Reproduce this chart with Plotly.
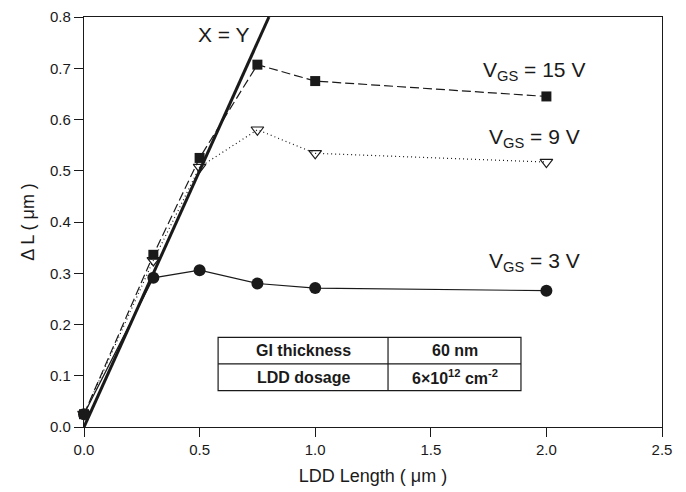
import plotly.graph_objects as go

ldd_length = [0.0, 0.3, 0.5, 0.75, 1.0, 2.0]
dl_vgs15 = [0.025, 0.336, 0.525, 0.707, 0.675, 0.645]
dl_vgs9 = [0.025, 0.325, 0.507, 0.580, 0.534, 0.517]
dl_vgs3 = [0.025, 0.291, 0.306, 0.280, 0.271, 0.266]
xy_line_x = [0.0, 0.8]
xy_line_y = [0.0, 0.8]

x_ticks = [0.0, 0.5, 1.0, 1.5, 2.0, 2.5]
y_ticks = [0.0, 0.1, 0.2, 0.3, 0.4, 0.5, 0.6, 0.7, 0.8]

table_rows = [["GI thickness", "60 nm"], ["LDD dosage", "6×10<sup>12</sup> cm<sup>-2</sup>"]]

FONT = "Liberation Sans, Arial, sans-serif"
INK = "#1a1a1a"

fig = go.Figure()

fig.add_trace(go.Scatter(x=xy_line_x, y=xy_line_y, mode="lines",
                         line=dict(color=INK, width=3), showlegend=False, cliponaxis=False))
fig.add_trace(go.Scatter(x=ldd_length, y=dl_vgs15, mode="lines+markers",
                         line=dict(color=INK, width=1.2, dash="9px,4px"),
                         marker=dict(symbol="square", size=10, color=INK),
                         showlegend=False, cliponaxis=False))
fig.add_trace(go.Scatter(x=ldd_length, y=dl_vgs9, mode="lines+markers",
                         line=dict(color=INK, width=1.2, dash="1px,3px"),
                         marker=dict(symbol="triangle-down-open", size=11, color=INK,
                                     line=dict(color=INK, width=1.2)),
                         showlegend=False, cliponaxis=False))
fig.add_trace(go.Scatter(x=ldd_length, y=dl_vgs3, mode="lines+markers",
                         line=dict(color=INK, width=1.2),
                         marker=dict(symbol="circle", size=12, color=INK),
                         showlegend=False, cliponaxis=False))

ann_font = dict(family=FONT, size=21, color=INK)
fig.add_annotation(x=0.606, y=0.765, xref="x", yref="y", text="X = Y",
                   showarrow=False, font=ann_font)
fig.add_annotation(x=1.946, y=0.694, xref="x", yref="y", text="V<sub>GS</sub> = 15 V",
                   showarrow=False, font=ann_font)
fig.add_annotation(x=1.95, y=0.563, xref="x", yref="y", text="V<sub>GS</sub> = 9 V",
                   showarrow=False, font=ann_font)
fig.add_annotation(x=1.95, y=0.322, xref="x", yref="y", text="V<sub>GS</sub> = 3 V",
                   showarrow=False, font=ann_font)

# parameter table
tx = [0.580, 1.315, 1.890]
ty = [0.175, 0.123, 0.071]
fig.add_shape(type="rect", xref="x", yref="y", x0=tx[0], x1=tx[2], y0=ty[2], y1=ty[0],
              line=dict(color=INK, width=1.2), fillcolor="white", layer="above")
fig.add_shape(type="line", xref="x", yref="y", x0=tx[1], x1=tx[1], y0=ty[2], y1=ty[0],
              line=dict(color=INK, width=1.2), layer="above")
fig.add_shape(type="line", xref="x", yref="y", x0=tx[0], x1=tx[2], y0=ty[1], y1=ty[1],
              line=dict(color=INK, width=1.2), layer="above")
tab_font = dict(family=FONT, size=16, color=INK)
for i, row in enumerate(table_rows):
    yc = (ty[i] + ty[i + 1]) / 2
    fig.add_annotation(x=(tx[0] + tx[1]) / 2, y=yc, xref="x", yref="y",
                       text="<b>" + row[0] + "</b>", showarrow=False, font=tab_font)
    fig.add_annotation(x=(tx[1] + tx[2]) / 2, y=yc, xref="x", yref="y",
                       text="<b>" + row[1] + "</b>", showarrow=False, font=tab_font)

axis_common = dict(showgrid=False, zeroline=False, showline=True, linecolor=INK,
                   linewidth=1.2, mirror=True, ticks="outside", ticklen=9,
                   tickcolor=INK, tickwidth=1.2, automargin=False,
                   ticklabeloverflow="allow",
                   tickfont=dict(family=FONT, size=15, color=INK))

fig.update_xaxes(range=[0, 2.5], tickvals=x_ticks,
                 ticktext=[f"{v:.1f}" for v in x_ticks],
                 title=dict(text="LDD Length ( μm )", font=dict(family=FONT, size=18, color=INK),
                            standoff=12),
                 **axis_common)
fig.update_yaxes(range=[0, 0.8], tickvals=y_ticks,
                 ticktext=[f"{v:.1f}" for v in y_ticks],
                 title=dict(text="Δ L ( μm )", font=dict(family=FONT, size=18, color=INK),
                            standoff=10),
                 **axis_common)

fig.update_layout(width=686, height=492, plot_bgcolor="white", paper_bgcolor="white",
                  margin=dict(l=76, r=32, t=9, b=73, autoexpand=False),
                  font=dict(family=FONT, color=INK))

fig.write_html("out.html")
